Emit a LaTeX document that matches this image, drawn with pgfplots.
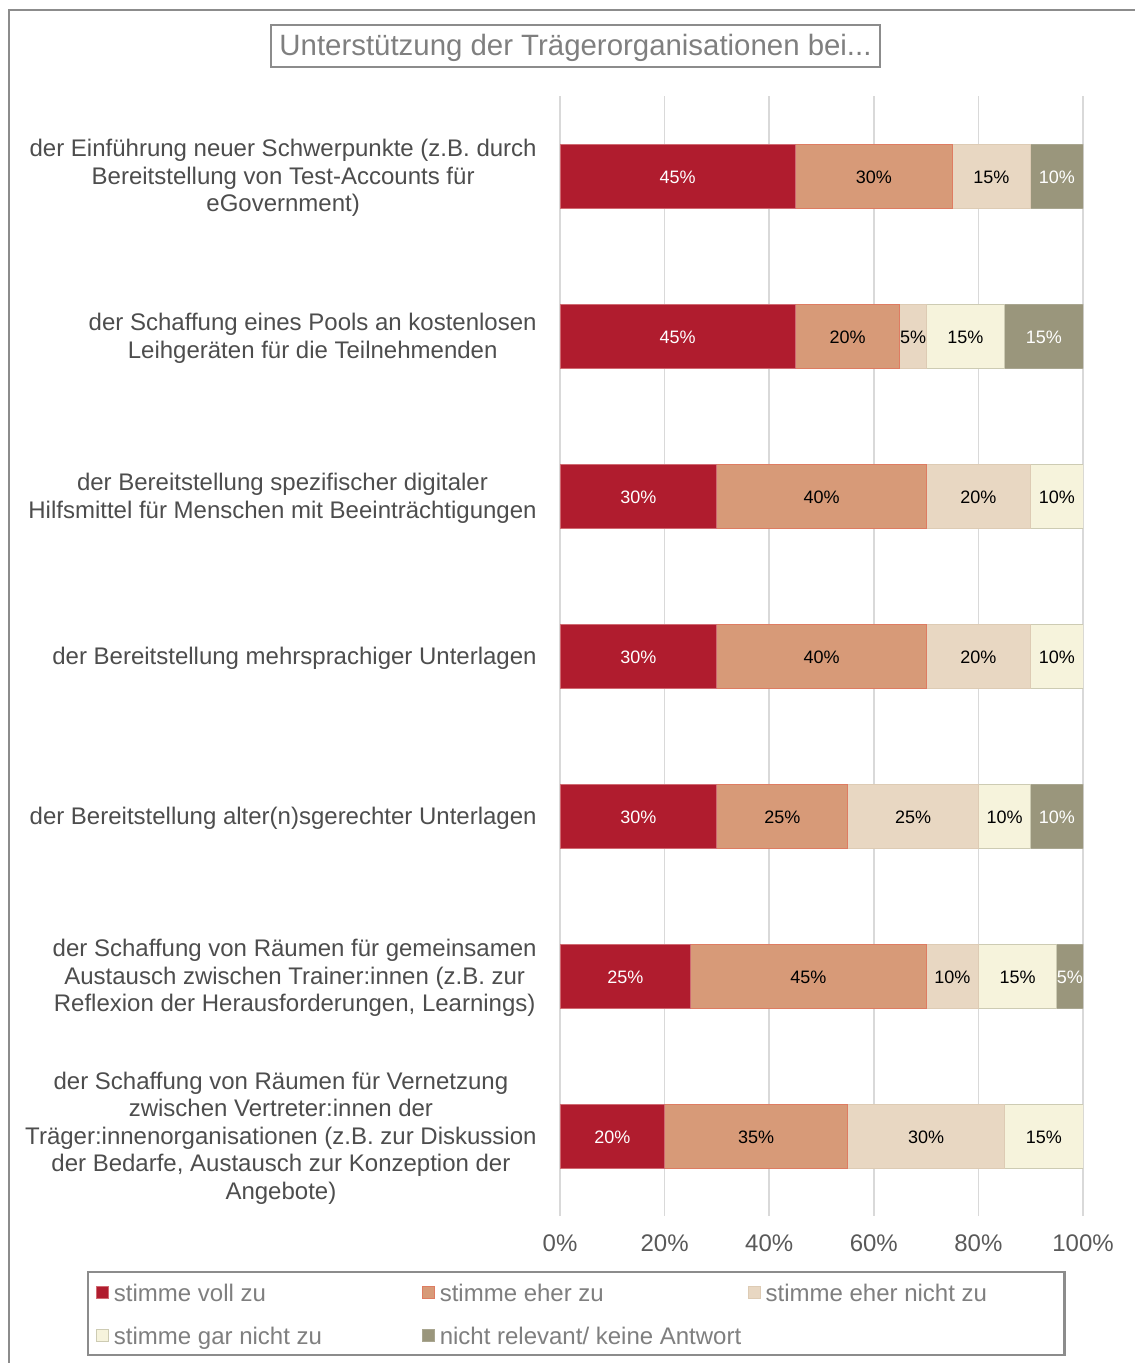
\documentclass[border=0pt]{standalone}
\usepackage{pgfplots}
\pgfplotsset{compat=1.18}
\usepackage{fontspec}
\setmainfont{Liberation Sans}
\definecolor{cA}{HTML}{B01C2E}
\definecolor{cAd}{HTML}{D06A72}
\definecolor{cB}{HTML}{D79A78}
\definecolor{cBd}{HTML}{DE7C62}
\definecolor{cC}{HTML}{E8D7C2}
\definecolor{cCd}{HTML}{DDCBB4}
\definecolor{cD}{HTML}{F6F3DC}
\definecolor{cDd}{HTML}{CDCBB3}
\definecolor{cE}{HTML}{9A967C}
\definecolor{cEd}{HTML}{A9A690}
\definecolor{gridc}{HTML}{D9D9D9}
\definecolor{framec}{HTML}{8C8C8C}
\definecolor{labc}{HTML}{4D4D4D}
\definecolor{tickc}{HTML}{595959}
\definecolor{legc}{HTML}{7F7F7F}
\begin{document}
\begin{tikzpicture}
\useasboundingbox (0,0) rectangle (567.5pt,-681.5pt);
\draw[color=framec, line width=1pt] (4.25pt,-681.5pt) -- (4.25pt,-5pt) -- (567.5pt,-5pt);
\node[draw=framec, line width=1pt, minimum width=304.5pt, minimum height=21pt, inner sep=0pt, text=legc,
      text height=13pt, text depth=3pt,
      font=\fontsize{14.7}{16}\selectfont] at (287.75pt,-23pt) {Unterstützung der Trägerorganisationen bei...};
\begin{axis}[
  at={(280pt,-608pt)}, anchor=south west, scale only axis,
  width=261.5pt, height=560pt,
  xbar stacked, bar width=32pt,
  xmin=0, xmax=100, ymin=-0.5, ymax=6.5, y dir=reverse,
  xtick={0,20,40,60,80,100},
  xticklabels={0\%,20\%,40\%,60\%,80\%,100\%},
  ytick={0,1,2,3,4,5,6},
  yticklabels={
    {der Einführung neuer Schwerpunkte (z.B. durch\\Bereitstellung von Test-Accounts für\\eGovernment)},
    {der Schaffung eines Pools an kostenlosen\\Leihgeräten für die Teilnehmenden},
    {der Bereitstellung spezifischer digitaler\\Hilfsmittel für Menschen mit Beeinträchtigungen},
    {der Bereitstellung mehrsprachiger Unterlagen},
    {der Bereitstellung alter(n)sgerechter Unterlagen},
    {der Schaffung von Räumen für gemeinsamen\\Austausch zwischen Trainer:innen (z.B. zur\\Reflexion der Herausforderungen, Learnings)},
    {der Schaffung von Räumen für Vernetzung\\zwischen Vertreter:innen der\\Träger:innenorganisationen (z.B. zur Diskussion\\der Bedarfe, Austausch zur Konzeption der\\Angebote)}},
  yticklabel style={align=center, inner sep=0pt, xshift=-11.5pt, yshift=-1pt, text=labc,
      font=\fontsize{12}{13.8}\selectfont},
  xticklabel style={inner sep=0pt, yshift=-9.25pt, text=tickc, font=\fontsize{12}{14}\selectfont},
  /pgf/number format/assume math mode=true,
  xmajorgrids, grid style={color=gridc, line width=0.75pt},
  major tick length=0pt,
  axis line style={draw=none},
  legend columns=3,
  legend cell align=left,
  legend style={at={(-0.9044,-0.0491)}, anchor=north west, draw=framec, line width=1.2pt,
     font=\fontsize{12}{14}\selectfont, text=legc, inner xsep=4pt, inner ysep=4pt,
     row sep=9.5pt,
     nodes={inner sep=0pt, text height=10.5pt, text depth=1.5pt},
     /tikz/every odd column/.append style={column sep=2.5pt},
     /tikz/every even column/.append style={column sep=0pt}},
  legend image code/.code={\draw[#1, line width=0.4pt] (0pt,-3pt) rectangle (6pt,3pt);},
]
\addplot[fill=cA, draw=cAd, line width=0.5pt] coordinates {(45,0) (45,1) (30,2) (30,3) (30,4) (25,5) (20,6)};
\addlegendentry{\makebox[154pt][l]{stimme voll zu}}
\addplot[fill=cB, draw=cBd, line width=0.5pt] coordinates {(30,0) (20,1) (40,2) (40,3) (25,4) (45,5) (35,6)};
\addlegendentry{\makebox[154pt][l]{stimme eher zu}}
\addplot[fill=cC, draw=cCd, line width=0.5pt] coordinates {(15,0) (5,1) (20,2) (20,3) (25,4) (10,5) (30,6)};
\addlegendentry{\makebox[145.5pt][l]{stimme eher nicht zu}}
\addplot[fill=cD, draw=cDd, line width=0.5pt] coordinates {(0,0) (15,1) (10,2) (10,3) (10,4) (15,5) (15,6)};
\addlegendentry{\makebox[154pt][l]{stimme gar nicht zu}}
\addplot[fill=cE, draw=cEd, line width=0.5pt] coordinates {(10,0) (15,1) (0,2) (0,3) (10,4) (5,5) (0,6)};
\addlegendentry{\makebox[154pt][l]{nicht relevant/ keine Antwort}}
\end{axis}
\begin{axis}[
  at={(280pt,-608pt)}, anchor=south west, scale only axis,
  width=261.5pt, height=560pt,
  xmin=0, xmax=100, ymin=-0.5, ymax=6.5, y dir=reverse,
  hide axis, clip=false,
  nodes near coords, point meta=explicit symbolic,
  every node near coord/.append style={anchor=center, inner sep=0pt, yshift=-0.6pt, font=\fontsize{9}{10}\selectfont},
]
\addplot[draw=none, mark=none, every node near coord/.append style={text=white}] coordinates {
 (22.5,0) [45\%] (22.5,1) [45\%] (15,2) [30\%] (15,3) [30\%] (15,4) [30\%] (12.5,5) [25\%] (10,6) [20\%]};
\addplot[draw=none, mark=none, every node near coord/.append style={text=black}] coordinates {
 (60,0) [30\%] (55,1) [20\%] (50,2) [40\%] (50,3) [40\%] (42.5,4) [25\%] (47.5,5) [45\%] (37.5,6) [35\%]};
\addplot[draw=none, mark=none, every node near coord/.append style={text=black}] coordinates {
 (82.5,0) [15\%] (67.5,1) [5\%] (80,2) [20\%] (80,3) [20\%] (67.5,4) [25\%] (75,5) [10\%] (70,6) [30\%]};
\addplot[draw=none, mark=none, every node near coord/.append style={text=black}] coordinates {
 (77.5,1) [15\%] (95,2) [10\%] (95,3) [10\%] (85,4) [10\%] (87.5,5) [15\%] (92.5,6) [15\%]};
\addplot[draw=none, mark=none, every node near coord/.append style={text=white}] coordinates {
 (95,0) [10\%] (92.5,1) [15\%] (95,4) [10\%] (97.5,5) [5\%]};
\end{axis}
\end{tikzpicture}
\end{document}
